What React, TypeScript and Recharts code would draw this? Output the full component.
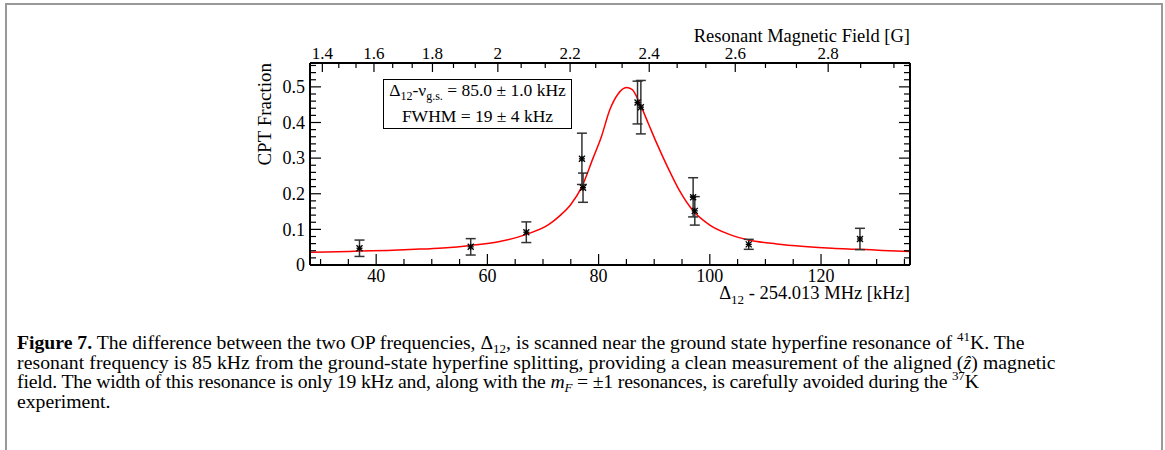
import React from 'react';
import {ComposedChart, ErrorBar, Line, Scatter, XAxis, YAxis} from 'recharts';

// measured points (kHz offset, CPT fraction, error)
const pointFreq = [37, 57, 67, 77, 77.2, 87, 87.6, 97, 97.3, 107, 127];
const pointFraction = [0.047, 0.051, 0.092, 0.298, 0.217, 0.456, 0.443, 0.19, 0.152, 0.058, 0.073];
const pointError = [0.023, 0.023, 0.029, 0.072, 0.041, 0.06, 0.075, 0.055, 0.04, 0.014, 0.03];

// fitted curve
const fitFreq = [28.1, 33, 37, 42, 47, 52, 57, 62, 67, 71, 73, 75, 77, 79, 80.5, 82, 83.5, 85, 86, 87.5, 89, 90.5, 92.5, 94.5, 97, 100, 103.5, 107, 112, 117, 122, 127, 131, 136];
const fitFraction = [0.036, 0.037, 0.039, 0.041, 0.044, 0.048, 0.055, 0.065, 0.086, 0.113, 0.138, 0.17, 0.22, 0.3, 0.36, 0.435, 0.48, 0.498, 0.493, 0.45, 0.395, 0.34, 0.272, 0.21, 0.152, 0.112, 0.086, 0.07, 0.059, 0.052, 0.047, 0.044, 0.041, 0.038];

const freqTicks = [30, 35, 40, 45, 50, 55, 60, 65, 70, 75, 80, 85, 90, 95, 100, 105, 110, 115, 120, 125, 130, 135];
const fractionTicks = Array.from({length: 29}, (_, i) => +(i * 0.02).toFixed(2));
const fieldLabels = [1.4, 1.6, 1.8, 2.0, 2.2, 2.4, 2.6, 2.8];
const kHzPerGauss2 = 15.47;

const pointData = pointFreq.map((x, i) => ({x, y: pointFraction[i], err: pointError[i]}));
const fitData = fitFreq.map((x, i) => ({x, y: fitFraction[i]}));

// top axis: major ticks at the field labels, two minor ticks in each gap
const fieldTicks: {b: number; major: boolean}[] = [];
fieldLabels.forEach((b) => {
    fieldTicks.push({b, major: true});
    fieldTicks.push({b: b + 0.2 / 3, major: false});
    fieldTicks.push({b: b + 0.4 / 3, major: false});
});
const topTickFreq = fieldTicks.map((t) => t.b * t.b * kHzPerGauss2);

const serif = "'Liberation Serif', 'Times New Roman', serif";

const BottomTick = (props: any) => {
    const {x, y, payload} = props;
    const major = payload.value % 20 === 0;
    return (
        <g>
            <line x1={x} y1={y} x2={x} y2={y - (major ? 11 : 6)} stroke="#000" strokeWidth={1.2}/>
            {major && (
                <text x={x} y={y + 17} textAnchor="middle" fontSize={18} fontFamily={serif} fill="#000">
                    {payload.value}
                </text>
            )}
        </g>
    );
};

const TopTick = (props: any) => {
    const {x, y, index} = props;
    const t = fieldTicks[index];
    if (!t) return <g/>;
    return (
        <g>
            <line x1={x} y1={y} x2={x} y2={y + (t.major ? 9 : 5)} stroke="#000" strokeWidth={1.2}/>
            {t.major && (
                <text x={x} y={y - 4} textAnchor="middle" fontSize={17} fontFamily={serif} fill="#000">
                    {String(+t.b.toFixed(1))}
                </text>
            )}
        </g>
    );
};

const LeftTick = (props: any) => {
    const {x, y, index, payload} = props;
    const major = index % 5 === 0;
    return (
        <g>
            <line x1={x} y1={y} x2={x + (major ? 11 : 6)} y2={y} stroke="#000" strokeWidth={1.2}/>
            {major && (
                <text x={x - 5} y={y} dy="0.35em" textAnchor="end" fontSize={18} fontFamily={serif} fill="#000">
                    {String(payload.value)}
                </text>
            )}
        </g>
    );
};

const RightTick = (props: any) => {
    const {x, y, index} = props;
    const major = index % 5 === 0;
    return <line x1={x} y1={y} x2={x - (major ? 11 : 6)} y2={y} stroke="#000" strokeWidth={1.2}/>;
};

const Star = (props: any) => {
    const {cx, cy} = props;
    const r = 3;
    return (
        <g stroke="#000" strokeWidth={1.3}>
            <line x1={cx - r} y1={cy} x2={cx + r} y2={cy}/>
            <line x1={cx - r} y1={cy - r} x2={cx + r} y2={cy + r}/>
            <line x1={cx - r} y1={cy + r} x2={cx + r} y2={cy - r}/>
            <line x1={cx} y1={cy - r} x2={cx} y2={cy + r}/>
        </g>
    );
};

const axisLine = {stroke: '#000', strokeWidth: 2};
const small = {fontSize: 13, position: 'relative' as const, lineHeight: 0};

const App = () => {
    return (
        <div style={{position: 'absolute', left: 0, top: 0, width: 1165, height: 450, background: '#fff', overflow: 'hidden'}}>
            <div style={{
                position: 'absolute', left: 5, top: 3, width: 1154, height: 460,
                borderLeft: '2px solid #999', borderTop: '2px solid #999', borderRight: '2px solid #999'
            }}/>
            <div style={{position: 'absolute', left: 0, top: 0}}>
                <ComposedChart width={1165} height={300} margin={{top: 33, right: 245, bottom: 5, left: 250}}>
                    <XAxis xAxisId="bottom" orientation="bottom" type="number" dataKey="x" domain={[28.1, 136]}
                           allowDataOverflow ticks={freqTicks} interval={0} tick={<BottomTick/>} tickLine={false}
                           tickSize={0} tickMargin={0} axisLine={axisLine} height={30}/>
                    <XAxis xAxisId="top" orientation="top" type="number" dataKey="x" domain={[28.1, 136]}
                           allowDataOverflow ticks={topTickFreq} interval={0} tick={<TopTick/>} tickLine={false}
                           tickSize={0} tickMargin={0} axisLine={axisLine} height={30}/>
                    <YAxis yAxisId="left" type="number" dataKey="y" domain={[0, 0.567]} allowDataOverflow
                           ticks={fractionTicks} interval={0} tick={<LeftTick/>} tickLine={false}
                           tickSize={0} tickMargin={0} axisLine={axisLine} width={60}/>
                    <YAxis yAxisId="right" orientation="right" type="number" dataKey="y" domain={[0, 0.567]}
                           allowDataOverflow ticks={fractionTicks} interval={0} tick={<RightTick/>} tickLine={false}
                           tickSize={0} tickMargin={0} axisLine={axisLine} width={10}/>
                    <Line xAxisId="bottom" yAxisId="left" data={fitData} dataKey="y" type="monotone"
                          stroke="#ff0000" strokeWidth={1.5} dot={false} isAnimationActive={false}/>
                    <Scatter xAxisId="bottom" yAxisId="left" data={pointData} dataKey="y" shape={<Star/>}
                             isAnimationActive={false}>
                        <ErrorBar dataKey="err" direction="y" width={5} stroke="#333" strokeWidth={1.5}/>
                    </Scatter>
                </ComposedChart>
            </div>
            <svg width={1165} height={320} style={{position: 'absolute', left: 0, top: 0, pointerEvents: 'none'}}
                 fontFamily={serif} fill="#000">
                <text x={910} y={42} textAnchor="end" fontSize={18.5}>Resonant Magnetic Field [G]</text>
                <text x={910} y={299} textAnchor="end" fontSize={18.5}>
                    Δ<tspan fontSize={13} dy={5}>12</tspan><tspan dy={-5}> - 254.013 MHz [kHz]</tspan>
                </text>
                <text transform="translate(271,63) rotate(-90)" textAnchor="end" fontSize={19}>CPT Fraction</text>
                <rect x={383.5} y={79.5} width={188} height={49} fill="#fff" stroke="#000" strokeWidth={1}/>
                <text x={477.5} y={96} textAnchor="middle" fontSize={17.5}>
                    Δ<tspan fontSize={12} dy={4}>12</tspan><tspan dy={-4}>-ν</tspan>
                    <tspan fontSize={12} dy={4}>g.s.</tspan><tspan dy={-4}> = 85.0 ± 1.0 kHz</tspan>
                </text>
                <text x={477.5} y={121.5} textAnchor="middle" fontSize={17.5}>FWHM = 19 ± 4 kHz</text>
            </svg>
            <div style={{
                position: 'absolute', left: 17, top: 333, fontFamily: serif, fontSize: 19.7,
                lineHeight: '19.6px', color: '#000', whiteSpace: 'nowrap'
            }}>
                <div style={{height: 19.6}}><b>Figure 7.</b> The difference between the two OP frequencies,
                    Δ<span style={{...small, top: 4}}>12</span>, is scanned near the ground state hyperfine resonance
                    of <span style={{...small, top: -8}}>41</span>K. The
                </div>
                <div style={{height: 19.6, letterSpacing: 0.08}}>resonant frequency is 85 kHz from the ground-state
                    hyperfine splitting, providing a clean measurement of the aligned (<i>z&#770;</i>) magnetic
                </div>
                <div style={{height: 19.6, letterSpacing: -0.17}}>field. The width of this resonance is only 19 kHz
                    and, along with the <i>m<span style={{...small, top: 4}}>F</span></i> = ±1 resonances, is carefully
                    avoided during the <span style={{...small, top: -8}}>37</span>K
                </div>
                <div style={{height: 19.6}}>experiment.</div>
            </div>
        </div>
    );
};

export default App;
